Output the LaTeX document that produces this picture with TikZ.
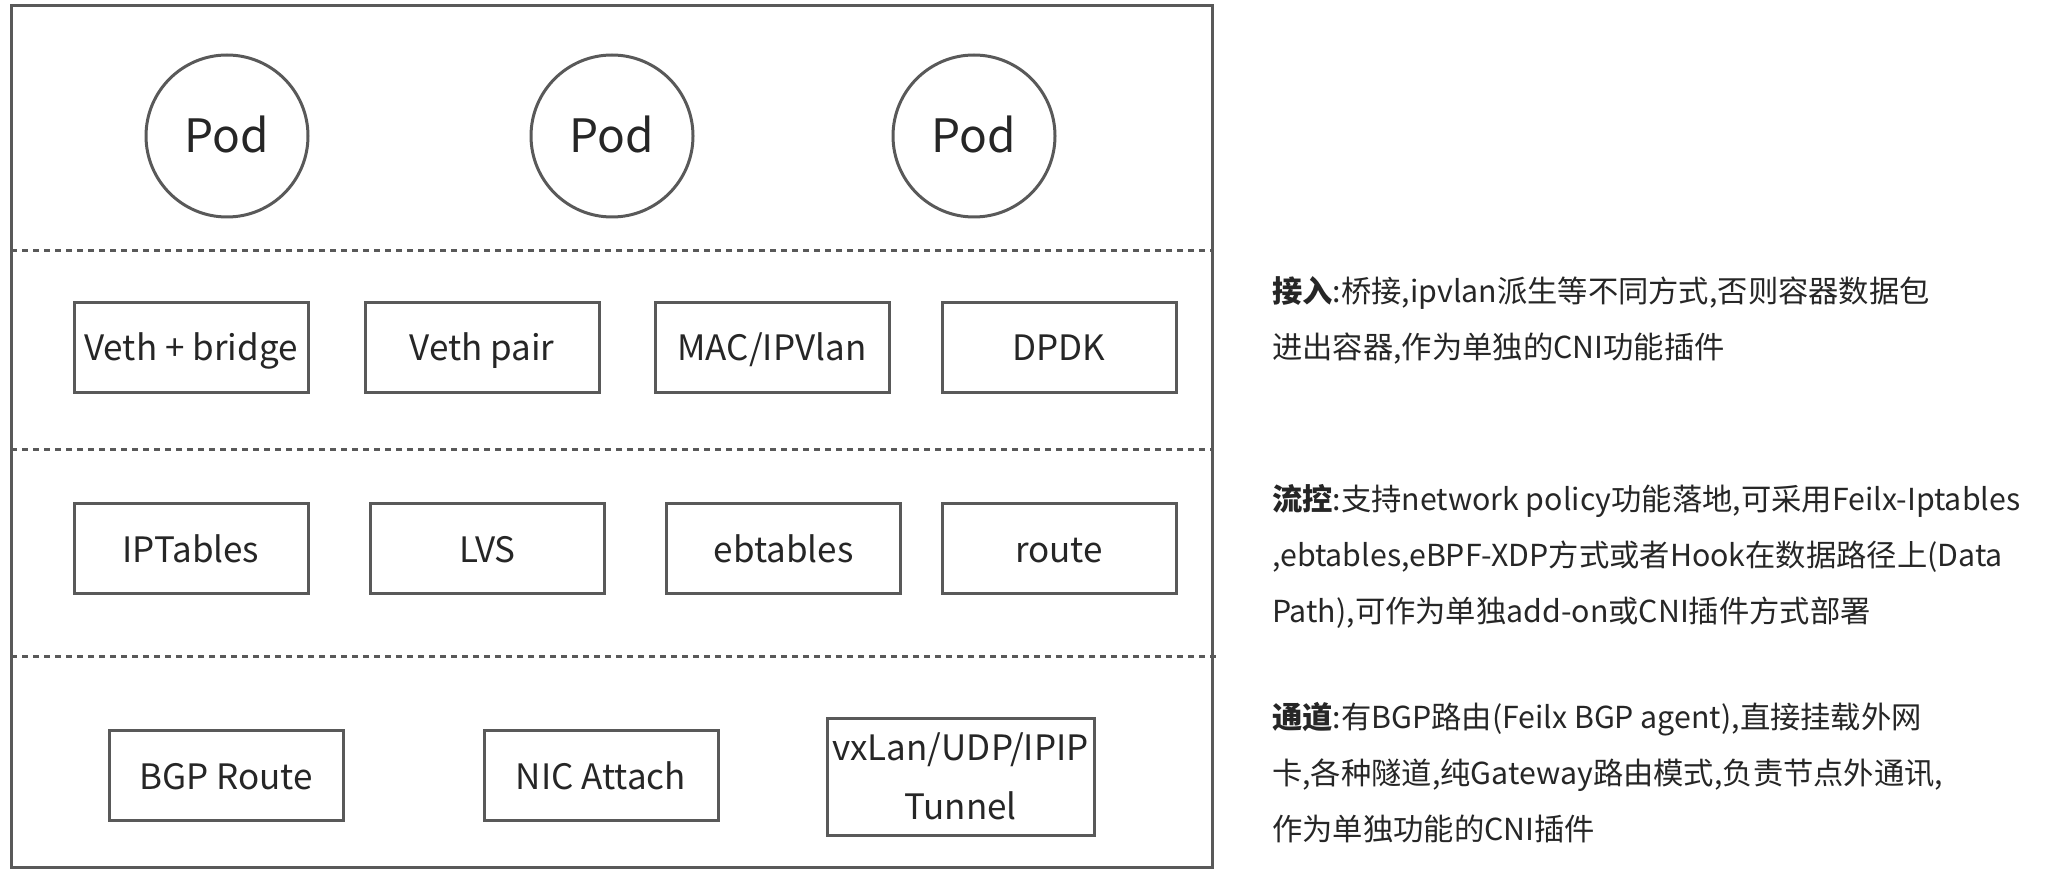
\documentclass[tikz,border=0pt]{standalone}
\usepackage{fontspec}
\setmainfont{Noto Sans CJK SC}
\usetikzlibrary{positioning}
\definecolor{edge}{HTML}{595959}
\definecolor{ink}{HTML}{262626}

\begin{document}
\begin{tikzpicture}[x=1pt, y=-1pt, every node/.style={text=ink, align=center},
    pod/.style={circle, draw=edge, line width=3pt, minimum size=162pt, inner sep=0pt,
        text height=44pt, text depth=10pt, font=\fontsize{46}{50}\selectfont},
    box/.style={rectangle, draw=edge, line width=3pt, minimum width=234pt, minimum height=90pt,
        inner sep=0pt, text height=35pt, text depth=8pt, font=\fontsize{35}{59}\selectfont},
    layer/.style={edge, line width=3pt, dash pattern=on 6pt off 5pt},
    desc/.style={anchor=north west, align=left, inner sep=0pt,
        font=\fontsize{30.3}{56}\selectfont}]

            \useasboundingbox (0,0) rectangle (2046,874);

            % Host frame and layer separators
            \draw[edge, line width=3pt] (11,6) rectangle (1212,867);
            \draw[layer] (11,251) -- (1212,251);
            \draw[layer] (11,450) -- (1212,450);
            \draw[layer] (11,656) -- (1219,656);

            % Pods
            \foreach \i/\x in {1/227, 2/612, 3/974} {
                \node[pod] (pod\i) at (\x,136) {Pod};
            }

            % Access layer
            \foreach \n/\x/\t in {veth/191/Veth + bridge, pair/482/Veth pair,
                    macvlan/772/{MAC/IPVlan}, dpdk/1059/DPDK} {
                \node[box] (\n) at (\x,347.5) {\t};
            }

            % Flow control layer
            \foreach \n/\x/\t in {iptables/191/IPTables, lvs/487.5/LVS,
                    ebtables/783.5/ebtables, route/1059/route} {
                \node[box] (\n) at (\x,548.5) {\t};
            }

            % Channel layer
            \node[box] (bgp) at (226,775.5) {BGP Route};
            \node[box] (nic) at (601,775.5) {NIC Attach};
            \node[box, minimum width=267pt, minimum height=117pt, text height=, text depth=]
                (tunnel) at (960.5,776.5) {vxLan/UDP/IPIP\\Tunnel};

            % Notes on the right
            \node[desc] (access) at (1272,276)
                {\textbf{接入}:桥接,ipvlan派生等不同方式,否则容器数据包\\进出容器,作为单独的CNI功能插件};
            \node[desc] (flow) at (1272,484)
                {\textbf{流控}:支持network policy功能落地,可采用Feilx-Iptables\\,ebtables,eBPF-XDP方式或者Hook在数据路径上(Data\\Path),可作为单独add-on或CNI插件方式部署};
            \node[desc] (channel) at (1272,702)
                {\textbf{通道}:有BGP路由(Feilx BGP agent),直接挂载外网\\卡,各种隧道,纯Gateway路由模式,负责节点外通讯,\\作为单独功能的CNI插件};

        \end{tikzpicture}
\end{document}
